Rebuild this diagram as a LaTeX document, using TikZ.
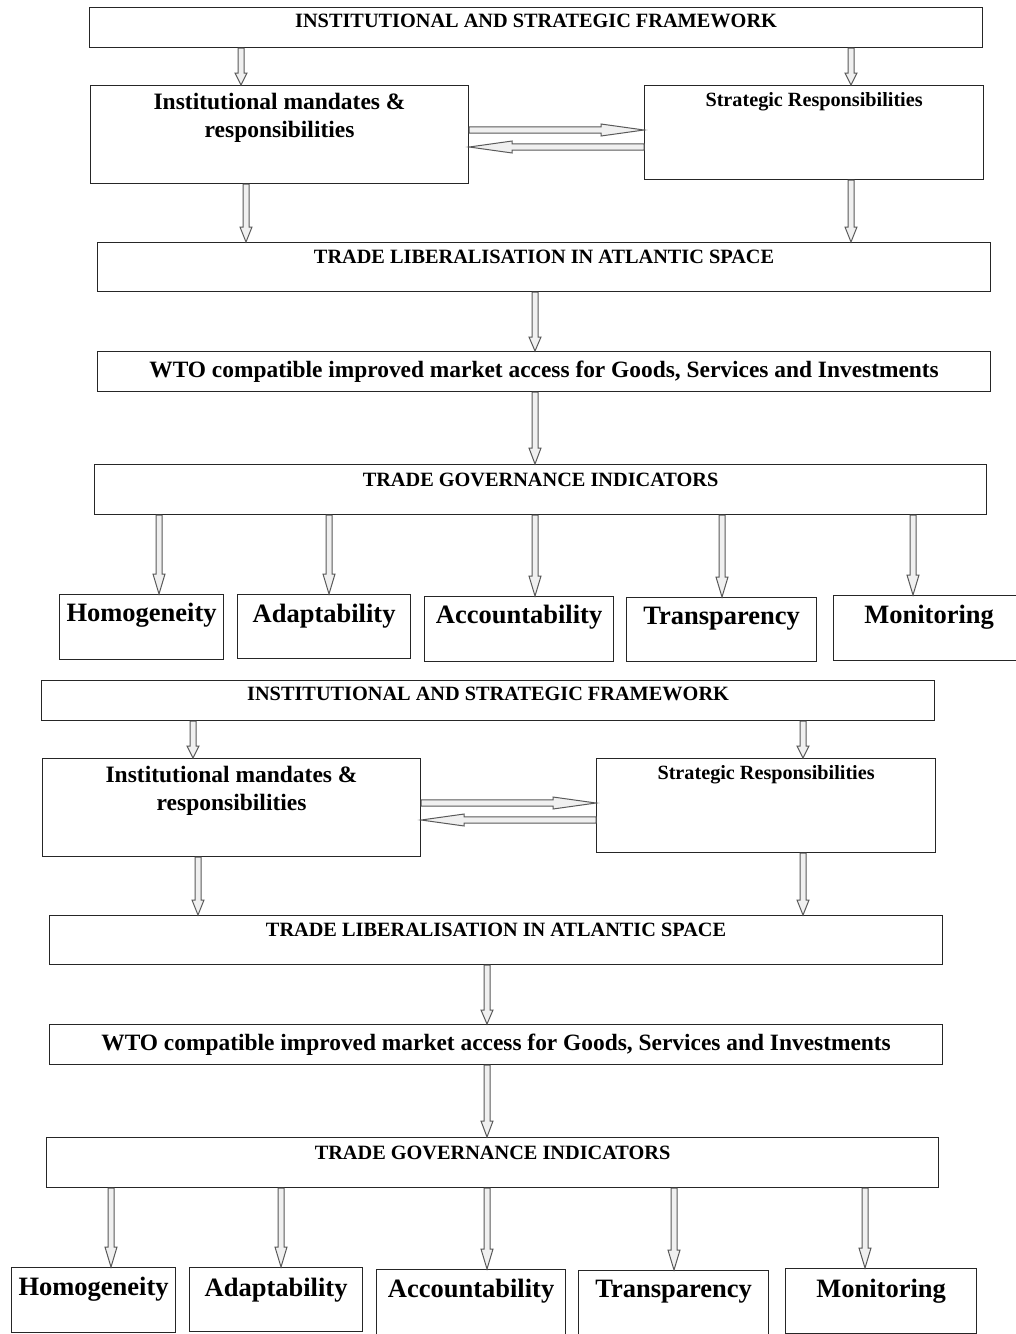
\documentclass[tikz,border=0pt]{standalone}
\usepackage{fontspec}
\setmainfont{Liberation Serif}
\usetikzlibrary{positioning}
\newcommand\boxnode[7]{%
  \node[box, anchor=north west] (#1) at (#2,#3)
    {\parbox[c][\dimexpr #5pt-#3pt\relax][t]{\dimexpr #4pt-#2pt\relax}{\vspace*{#6pt}\centering #7\par}};}
% vertical block arrow: from node #1 (south) to node #2 (north) at local x #3, head length #4
\newcommand\varr[4]{%
  \path (#1.south -| #3,0) coordinate (va) (#2.north -| #3,0) coordinate (vb);
  \draw[blk] ([xshift=-3pt]va) -- ([xshift=-3pt,yshift=#4pt]vb) -- ([xshift=-6pt,yshift=#4pt]vb) -- (vb)
     -- ([xshift=6pt,yshift=#4pt]vb) -- ([xshift=3pt,yshift=#4pt]vb) -- ([xshift=3pt]va) -- cycle;}
% horizontal block arrow: from node #1 anchor #2 to node #3 anchor #4 at local y #5, direction #6 (1 right, -1 left)
\newcommand\harr[6]{%
  \path (#1.#2 |- 0,#5) coordinate (ha) (#3.#4 |- 0,#5) coordinate (hb);
  \draw[blk] ([yshift=3.2pt]ha) -- ([xshift={-#6*43pt},yshift=3.2pt]hb) -- ([xshift={-#6*43pt},yshift=6pt]hb) -- (hb)
     -- ([xshift={-#6*43pt},yshift=-6pt]hb) -- ([xshift={-#6*43pt},yshift=-3.2pt]hb) -- ([yshift=-3.2pt]ha) -- cycle;}
\begin{document}
\begin{tikzpicture}[x=1pt,y=-1pt,
  box/.style={draw=black!85, line width=1.2pt, inner sep=0pt, font=\bfseries},
  blk/.style={draw=black!65, fill=gray!12, line width=1pt, line join=miter},
]
\useasboundingbox (0,0) rectangle (1016,1334);
\fill[white] (0,0) rectangle (1016,1334);
\clip (0,0) rectangle (1016,1334);
\foreach \p/\dx/\dy in {a/0/0,b/-48/673}{
\begin{scope}[shift={(\dx,\dy)}]
  \boxnode{top\p}{89}{7}{982}{47}{6}{\fontsize{20.3}{24}\selectfont INSTITUTIONAL AND STRATEGIC FRAMEWORK}
  \boxnode{mand\p}{90}{85}{468}{183}{8}{\fontsize{23.5}{28}\selectfont Institutional mandates \&\\ responsibilities}
  \boxnode{strat\p}{644}{85}{983}{179}{6.5}{\fontsize{20.2}{24}\selectfont Strategic Responsibilities}
  \boxnode{lib\p}{97}{242}{990}{291}{7}{\fontsize{20.3}{24}\selectfont TRADE LIBERALISATION IN ATLANTIC SPACE}
  \boxnode{wto\p}{97}{351}{990}{391}{9}{\fontsize{23.4}{27}\selectfont WTO compatible improved market access for Goods, Services and Investments}
  \boxnode{tgi\p}{94}{464}{986}{514}{8}{\fontsize{20.3}{24}\selectfont TRADE GOVERNANCE INDICATORS}
  \boxnode{hom\p}{59}{594}{223}{659}{9}{\fontsize{26.5}{30}\selectfont Homogeneity}
  \boxnode{ada\p}{237}{594}{410}{658}{10}{\fontsize{26.5}{30}\selectfont Adaptability}
  \boxnode{acc\p}{424}{596}{613}{661}{9}{\fontsize{26.5}{30}\selectfont Accountability}
  \boxnode{tra\p}{626}{597}{816}{661}{9.5}{\fontsize{26.5}{30}\selectfont Transparency}
  \boxnode{mon\p}{833}{595}{1024}{660}{10}{\fontsize{26.5}{30}\selectfont Monitoring}
  \varr{top\p}{mand\p}{241}{12}
  \varr{top\p}{strat\p}{851}{12}
  \varr{mand\p}{lib\p}{246}{15}
  \varr{strat\p}{lib\p}{851}{15}
  \varr{lib\p}{wto\p}{535}{14}
  \varr{wto\p}{tgi\p}{535}{16}
  \varr{tgi\p}{hom\p}{159}{20}
  \varr{tgi\p}{ada\p}{329}{20}
  \varr{tgi\p}{acc\p}{535}{20}
  \varr{tgi\p}{tra\p}{722}{20}
  \varr{tgi\p}{mon\p}{913}{20}
  \harr{mand\p}{east}{strat\p}{west}{130}{1}
  \harr{strat\p}{west}{mand\p}{east}{147}{-1}
\end{scope}
}
\end{tikzpicture}
\end{document}
